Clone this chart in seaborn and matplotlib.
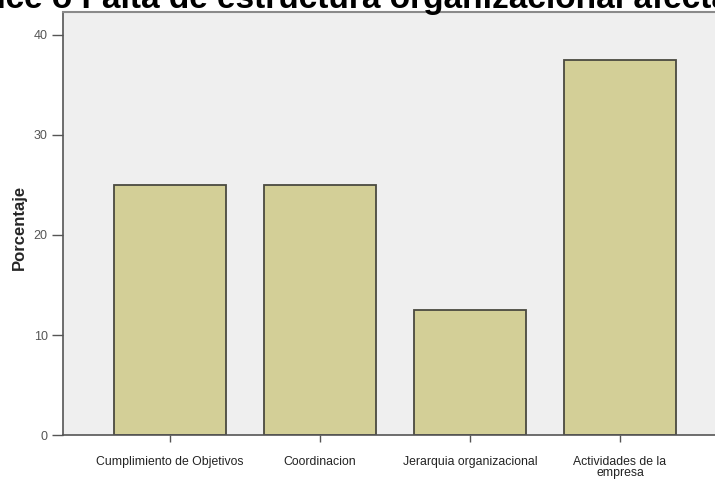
import matplotlib
matplotlib.use("Agg")
import matplotlib.pyplot as plt
import seaborn as sns
import pandas as pd

categories = ["Cumplimiento de Objetivos", "Coordinacion", "Jerarquia organizacional", "Actividades de la\nempresa"]
porcentaje = [25.0, 25.0, 12.5, 37.5]
yticks = [0, 10, 20, 30, 40]
title_text = "Avance o Falta de estructura organizacional afecta"

df = pd.DataFrame({"categoria": categories, "porcentaje": porcentaje})

sns.set_style("white")
plt.rcParams["font.family"] = ["Liberation Sans", "DejaVu Sans"]

W, H = 715, 479
fig = plt.figure(figsize=(W / 100, H / 100), dpi=100)
fig.patch.set_facecolor("white")

left, right, top, bottom = 63, 727, 12, 435
ax = fig.add_axes([left / W, (H - bottom) / H, (right - left) / W, (bottom - top) / H])
ax.set_facecolor("#efefef")

sns.barplot(data=df, x="categoria", y="porcentaje", ax=ax, color="#d3cf97",
            edgecolor="#4a4a40", linewidth=1.3, width=0.75, saturation=1)

ax.set_xlim(-0.713, 3.713)
ax.set_ylim(0, (bottom - top) / 10.0)
ax.set_yticks(yticks)
ax.set_yticklabels([str(v) for v in yticks], fontsize=9, color="#555555")
ax.set_xticks(range(len(categories)))
ax.set_xticklabels(categories, fontsize=8.8, color="#222222", linespacing=0.95)
ax.tick_params(axis="x", direction="out", length=5, width=1, color="#555555", pad=10, bottom=True)
ax.tick_params(axis="y", direction="out", length=8, width=1, color="#555555", pad=3, left=True)

ax.set_xlabel("")
ax.set_ylabel("Porcentaje", fontsize=12, fontweight="bold")
ax.yaxis.set_label_coords((27 - left) / (right - left), 0.49)

for side in ["left", "bottom"]:
    ax.spines[side].set_color("#555555")
    ax.spines[side].set_linewidth(1.2)
for side in ["top", "right"]:
    ax.spines[side].set_color("#8a8a8a")
    ax.spines[side].set_linewidth(1.5)

fig.text(-75 / W, 1 - 8 / H, title_text, fontsize=24, fontweight="bold",
         ha="left", va="baseline", color="black")

fig.savefig("out.png", dpi=100, facecolor="white")
